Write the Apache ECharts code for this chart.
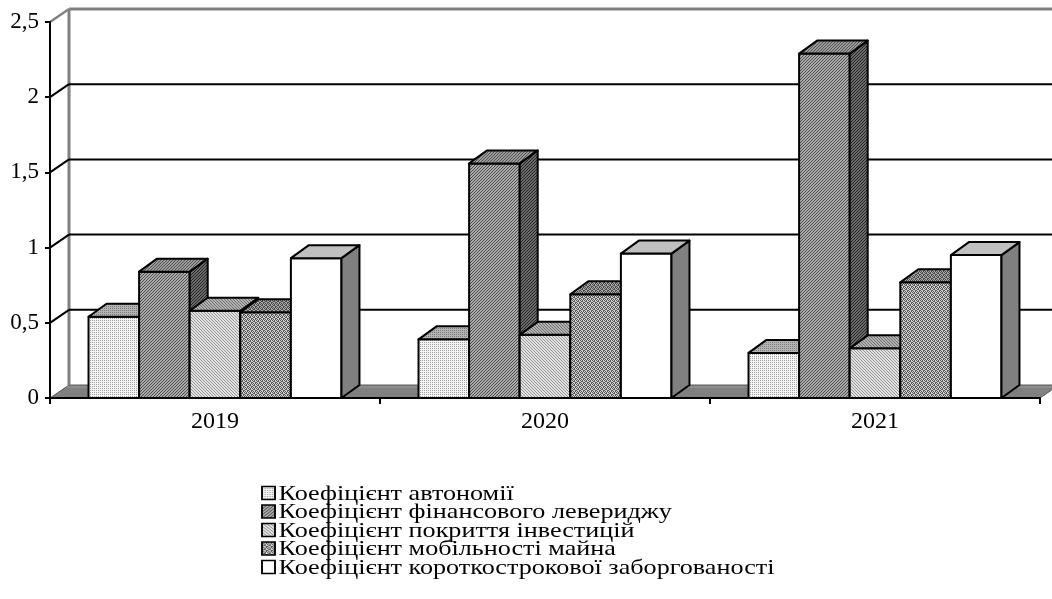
<!DOCTYPE html>
<html>
<head>
<meta charset="utf-8">
<style>
  html, body { margin: 0; padding: 0; background: #fff; }
  #chart { width: 1052px; height: 599px; }
</style>
<script src="https://cdn.jsdelivr.net/npm/echarts@6/dist/echarts.min.js"></script>
</head>
<body>
<div id="chart"></div>
<script>
// Categories (years) and the five ratios shown for each year
const years = ['2019', '2020', '2021'];
const seriesNames = [
  'Коефіцієнт автономії',
  'Коефіцієнт фінансового левериджу',
  'Коефіцієнт покриття інвестицій',
  'Коефіцієнт мобільності майна',
  'Коефіцієнт короткострокової заборгованості'
];
const autonomy    = [0.54, 0.39, 0.30];
const leverage    = [0.84, 1.56, 2.29];
const investCover = [0.58, 0.42, 0.33];
const mobility    = [0.57, 0.69, 0.77];
const shortDebt   = [0.93, 0.96, 0.95];
const yTicks = [0, 0.5, 1, 1.5, 2, 2.5];

const seriesValues = [autonomy, leverage, investCover, mobility, shortDebt];

// Pseudo-3D projection of the depth axis (screen px)
const DX = 19, DY = -13;
const BAR_DX = 18, BAR_DY = -13;
const BAR_FRACTION = 0.1533; // width of one column relative to the category band

// ---- fill patterns -------------------------------------------------------
function pattern(size, paint) {
  const c = document.createElement('canvas');
  c.width = c.height = size;
  const ctx = c.getContext('2d');
  paint(ctx, size);
  return { image: c, repeat: 'repeat' };
}
function dots(bg, fg) {
  return pattern(2, (ctx) => {
    ctx.fillStyle = bg; ctx.fillRect(0, 0, 2, 2);
    ctx.fillStyle = fg; ctx.fillRect(0, 0, 1, 1);
  });
}
function diag(bg, fg, dir) {
  return pattern(3, (ctx) => {
    ctx.fillStyle = bg; ctx.fillRect(0, 0, 3, 3);
    ctx.fillStyle = fg;
    for (let x = 0; x < 3; x++) for (let y = 0; y < 3; y++) {
      const k = dir > 0 ? (x + y) % 3 : ((x - y) % 3 + 3) % 3;
      if (k === 0) ctx.fillRect(x, y, 1, 1);
    }
  });
}
function weave(bg, fg) {
  const map = [
    '1010',
    '0110',
    '1001',
    '0101'
  ];
  return pattern(4, (ctx) => {
    ctx.fillStyle = bg; ctx.fillRect(0, 0, 4, 4);
    ctx.fillStyle = fg;
    map.forEach((row, y) => row.split('').forEach((ch, x) => {
      if (ch === '1') ctx.fillRect(x, y, 1, 1);
    }));
  });
}
function solid(c) { return c; }

const faces = [
  { front: dots('#f4f4f4', '#a0a0a0'), top: dots('#b4b4b4', '#7a7a7a'), side: dots('#9a9a9a', '#606060') },
  { front: diag('#ababab', '#4e4e4e', 1), top: diag('#9a9a9a', '#555555', 1), side: diag('#6a6a6a', '#262626', 1) },
  { front: diag('#e2e2e2', '#969696', -1), top: diag('#b2b2b2', '#707070', -1), side: diag('#9a9a9a', '#555555', -1) },
  { front: weave('#d4d4d4', '#555555'), top: weave('#a8a8a8', '#4a4a4a'), side: weave('#8a8a8a', '#3a3a3a') },
  { front: solid('#ffffff'), top: solid('#c0c0c0'), side: solid('#808080') }
];

// ---- renderers -----------------------------------------------------------
function barRenderer(k) {
  return function (params, api) {
    const cat = api.value(0);
    const v = api.value(1);
    const base = api.coord([cat, 0]);
    const top = api.coord([cat, v]);
    const band = api.size([1, 0])[0];
    const w = band * BAR_FRACTION;
    const x0 = base[0] - 2.5 * w + k * w;
    const x1 = x0 + w;
    const yb = base[1], yt = top[1];
    const f = faces[k];
    const edge = { stroke: '#000', lineWidth: 2, lineJoin: 'round' };
    return {
      type: 'group',
      children: [
        { type: 'polygon', shape: { points: [[x0, yb], [x1, yb], [x1, yt], [x0, yt]] },
          style: Object.assign({ fill: f.front }, edge) },
        { type: 'polygon', shape: { points: [[x1, yb], [x1 + BAR_DX, yb + BAR_DY], [x1 + BAR_DX, yt + BAR_DY], [x1, yt]] },
          style: Object.assign({ fill: f.side }, edge) },
        { type: 'polygon', shape: { points: [[x0, yt], [x1, yt], [x1 + BAR_DX, yt + BAR_DY], [x0 + BAR_DX, yt + BAR_DY]] },
          style: Object.assign({ fill: f.top }, edge) }
      ]
    };
  };
}

function frameRenderer(params, api) {
  const t = api.value(1);
  const cs = params.coordSys;
  const left = cs.x, right = cs.x + cs.width;
  const y = api.coord([0, t])[1];
  const maxTick = yTicks[yTicks.length - 1];
  const children = [];
  if (t === 0) {
    // floor
    children.push({ type: 'polygon',
      shape: { points: [[left, y], [right, y], [right + DX, y + DY], [left + DX, y + DY]] },
      style: { fill: '#808080', stroke: '#5a5a5a', lineWidth: 1 } });
    children.push({ type: 'line',
      shape: { x1: left + DX - 2, y1: y + DY + 2, x2: right + DX, y2: y + DY + 2 },
      style: { stroke: '#9a9a9a', lineWidth: 1 } });
    // back wall left edge
    const yTop = api.coord([0, maxTick])[1];
    children.push({ type: 'line',
      shape: { x1: left + DX, y1: y + DY, x2: left + DX, y2: yTop + DY },
      style: { stroke: '#808080', lineWidth: 3 } });
  } else {
    const isTop = t === maxTick;
    const color = isTop ? '#808080' : '#000';
    children.push({ type: 'line',
      shape: { x1: left + DX, y1: y + DY, x2: right + DX + 40, y2: y + DY },
      style: { stroke: color, lineWidth: isTop ? 3 : 2 } });
    children.push({ type: 'line',
      shape: { x1: left, y1: y, x2: left + DX, y2: y + DY },
      style: { stroke: color, lineWidth: isTop ? 2.5 : 2 } });
  }
  return { type: 'group', children };
}

// ---- legend (drawn as graphic so the wide serif lettering can be reproduced) ----
const serif = "'Liberation Serif', 'Times New Roman', serif";
const LEGEND_FONT = 21;
const LEGEND_ROW = 18.5;
const LEGEND_STRETCH = 1.245;
const legendChildren = [];
seriesNames.forEach((name, i) => {
  const cy = i * LEGEND_ROW + 9;
  legendChildren.push({
    type: 'rect',
    shape: { x: 0, y: cy - 6.5, width: 13 / LEGEND_STRETCH, height: 13 },
    style: { fill: faces[i].front, stroke: '#000', lineWidth: 1.5, strokeNoScale: true }
  });
  legendChildren.push({
    type: 'text',
    x: 16.5 / LEGEND_STRETCH, y: cy + 1,
    style: { text: name, font: LEGEND_FONT + 'px ' + serif, fill: '#000', verticalAlign: 'middle', align: 'left' }
  });
});

// ---- chart ---------------------------------------------------------------
const chart = echarts.init(document.getElementById('chart'), null, { renderer: 'canvas' });

const series = [{
  type: 'custom',
  name: 'frame',
  renderItem: frameRenderer,
  data: yTicks.map(t => [0, t]),
  z: 1,
  silent: true,
  clip: false
}];
seriesValues.forEach((vals, k) => {
  series.push({
    type: 'custom',
    name: seriesNames[k],
    renderItem: barRenderer(k),
    data: vals.map((v, i) => [i, v]),
    itemStyle: { color: faces[k].front, borderColor: '#000', borderWidth: 1.5 },
    z: 3,
    clip: false
  });
});

chart.setOption({
  backgroundColor: '#fff',
  animation: false,
  grid: { left: 50, right: 12, top: 22, bottom: 201, containLabel: false },
  xAxis: {
    type: 'category',
    data: years,
    z: 10,
    axisLine: { show: true, lineStyle: { color: '#000', width: 2 } },
    axisTick: { show: true, length: 6, lineStyle: { color: '#000', width: 2 } },
    axisLabel: { fontFamily: serif, fontSize: 24, color: '#000', margin: 12 },
    splitLine: { show: false }
  },
  yAxis: {
    type: 'value',
    min: 0, max: 2.5, interval: 0.5,
    z: 10,
    axisLine: { show: true, lineStyle: { color: '#000', width: 2 } },
    axisTick: { show: true, length: 5, lineStyle: { color: '#000', width: 2 } },
    axisLabel: {
      fontFamily: serif, fontSize: 23, color: '#000', margin: 11,
      formatter: (v) => String(v).replace('.', ',')
    },
    splitLine: { show: false }
  },
  graphic: [{
    type: 'group',
    x: 262, y: 484,
    scaleX: LEGEND_STRETCH,
    children: legendChildren
  }],
  series
});
</script>
</body>
</html>
